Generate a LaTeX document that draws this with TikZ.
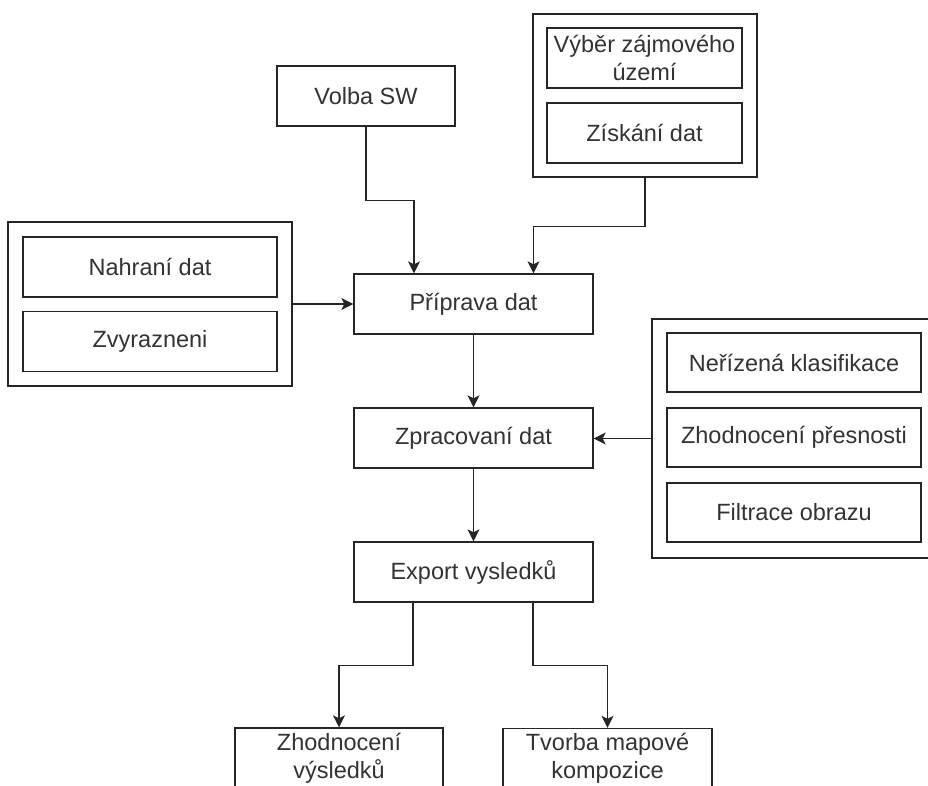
\documentclass[tikz,border=0pt]{standalone}
\usepackage{fontspec}
\setmainfont{Liberation Sans}
\usetikzlibrary{arrows.meta}
\definecolor{txt}{HTML}{333333}
\definecolor{ln}{HTML}{262626}
\tikzset{
  box/.style={draw=ln, line width=1.3pt, fill=white, inner sep=0pt, align=center,
    text=txt, font=\fontsize{23.5}{28}\selectfont},
  panel/.style={draw=ln, line width=1.3pt, inner sep=0pt},
  arr/.style={draw=ln, line width=1.3pt, -{Stealth[length=12pt,width=12pt,inset=3pt]}},
}
\begin{document}
\begin{tikzpicture}[x=1pt,y=-1pt]
\useasboundingbox (0,0) rectangle (928,785);
\clip (0,0) rectangle (928,785);
% top centre
\node[box, minimum width=178pt, minimum height=60pt] (volba) at (366,96) {Volba SW};
% top right panel
\node[panel, minimum width=224pt, minimum height=163pt] (tr) at (645,95.5) {};
\node[box, minimum width=195pt, minimum height=60pt] (vyber) at (644.5,58) {Výběr zájmového\\území};
\node[box, minimum width=195pt, minimum height=60pt] (ziskani) at (644.5,133) {Získání dat};
% left panel
\node[panel, minimum width=284pt, minimum height=164pt] (lp) at (150,304) {};
\node[box, minimum width=254pt, minimum height=60pt] (nahrani) at (150,267) {Nahraní dat};
\node[box, minimum width=254pt, minimum height=60pt] (zvyr) at (150,341.5) {Zvyrazneni};
% main chain
\node[box, minimum width=239pt, minimum height=60pt] (priprava) at (473.5,304) {Příprava dat};
\node[box, minimum width=239pt, minimum height=60pt] (zprac) at (473.5,438) {Zpracovaní dat};
\node[box, minimum width=239pt, minimum height=60pt] (export) at (473.5,572) {Export vysledků};
% right panel
\node[panel, minimum width=284pt, minimum height=239pt] (rp) at (794,438.5) {};
\node[box, minimum width=254pt, minimum height=59pt] (neriz) at (794,362.5) {Neřízená klasifikace};
\node[box, minimum width=254pt, minimum height=59pt] (zhodp) at (794,437.5) {Zhodnocení přesnosti};
\node[box, minimum width=254pt, minimum height=59pt] (filtr) at (794,512.5) {Filtrace obrazu};
% bottom
\node[box, minimum width=208pt, minimum height=60pt] (zhodv) at (339,758) {Zhodnocení\\výsledků};
\node[box, minimum width=209pt, minimum height=60pt] (tvorba) at (607.5,758.5) {Tvorba mapové\\kompozice};
% connectors
\draw[arr] (volba.south) -- ++(0,74) -| ([xshift=-59.5pt]priprava.north);
\draw[arr] (tr.south) -- ++(0,49) -| ([xshift=60pt]priprava.north);
\draw[arr] (lp.east) -- (priprava.west);
\draw[arr] (priprava.south) -- (zprac.north);
\draw[arr] (rp.west) -- (rp.west -| zprac.east);
\draw[arr] (zprac.south) -- (export.north);
\draw[arr] ([xshift=-60.5pt]export.south) -- ++(0,63) -| (zhodv.north);
\draw[arr] ([xshift=59.5pt]export.south) -- ++(0,63) -| (tvorba.north);
\end{tikzpicture}
\end{document}
